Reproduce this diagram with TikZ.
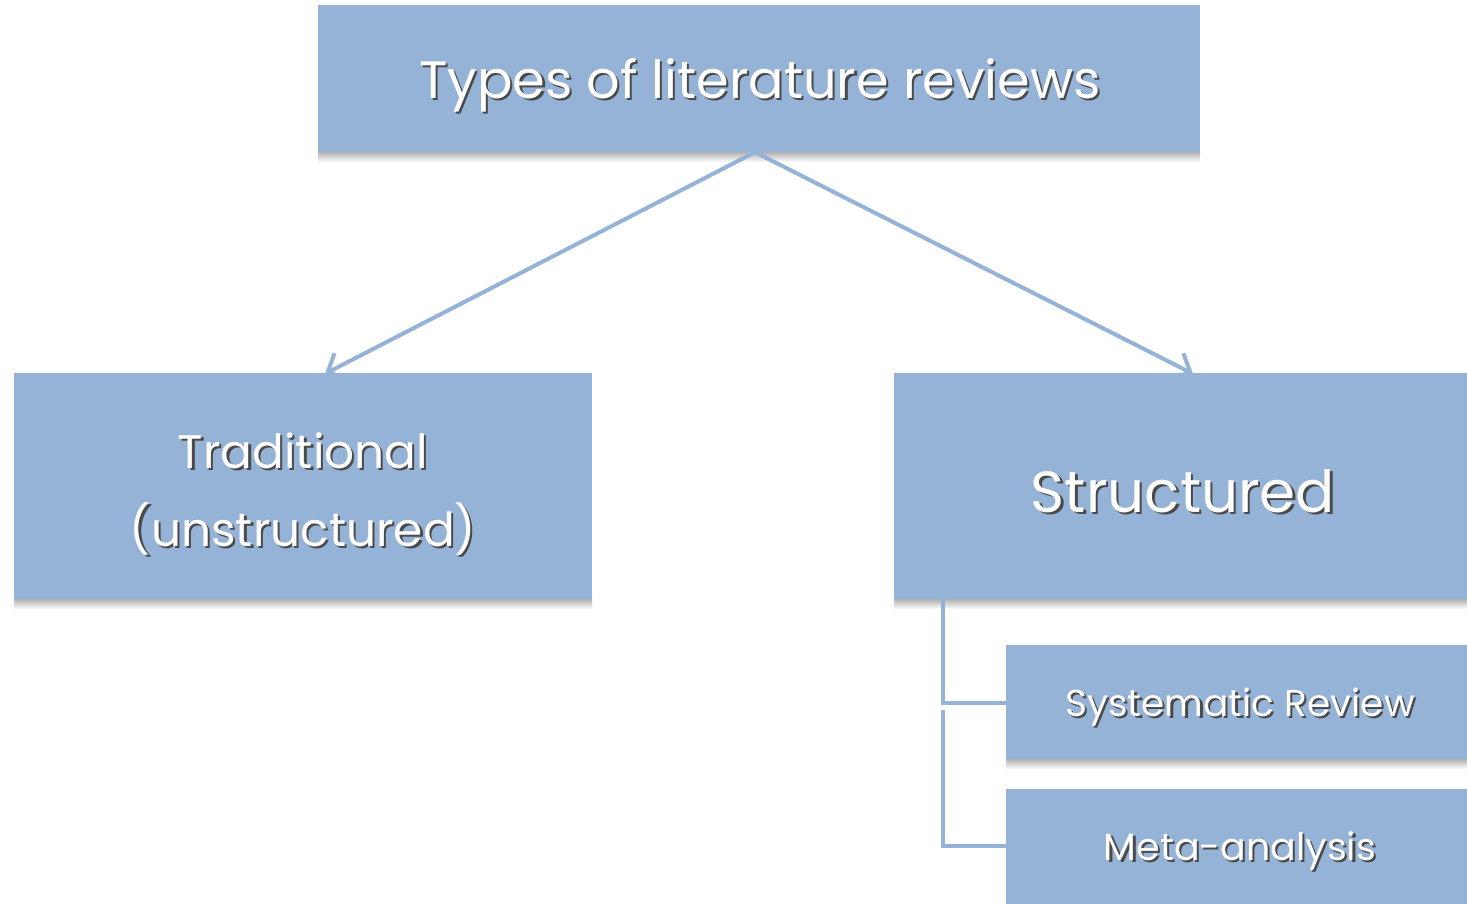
\documentclass[tikz,border=0pt]{standalone}
\usepackage{fontspec}
\setmainfont{Poppins}
\usetikzlibrary{arrows.meta,calc}
\definecolor{boxblue}{HTML}{95B3D7}
\definecolor{txtshade}{HTML}{4A4A4A}
% white text with a small dark drop shadow
\newcommand{\shd}[1]{\rlap{\kern2.2pt\raisebox{-2.2pt}{\color{txtshade}#1}}#1}
\tikzset{
  box/.style={fill=boxblue, draw=none, inner sep=0pt},
  lbl/.style={text=white, align=center, inner sep=0pt},
  link/.style={draw=boxblue, line width=4pt},
  tip/.style={-{Straight Barb[length=15pt,width=28pt]}},
  fadeshadow/.style={top color=black!30, bottom color=white, draw=none},
}
% soft shadow strip just below a box
\newcommand{\boxshadow}[1]{\shade[fadeshadow] (#1.south west) rectangle ([yshift=-10pt]#1.south east);}
\begin{document}
\begin{tikzpicture}[x=1pt,y=-1pt]
\useasboundingbox (0,0) rectangle (1467,903);
\fill[white] (0,0) rectangle (1467,903);

% boxes
\node[box, minimum width=882pt, minimum height=147pt] (top) at (759,78.5) {};
\node[box, minimum width=578pt, minimum height=226pt] (left) at (303,486) {};
\node[box, minimum width=580pt, minimum height=226pt] (right) at (1184,486) {};
\node[box, minimum width=470pt, minimum height=114pt] (sys) at (1241,702) {};
\node[box, minimum width=470pt, minimum height=124pt] (meta) at (1241,851) {};
\boxshadow{top}
\boxshadow{left}
\boxshadow{right}
\boxshadow{sys}

% connectors
\coordinate (hub) at ([xshift=-4pt]top.south);
\draw[link, tip] (hub) -- ([xshift=22pt,yshift=-1pt]left.north);
\draw[link, tip] (hub) -- ([xshift=9pt,yshift=-1pt]right.north);

\coordinate (bend1) at (943,703);
\coordinate (bend2) at (943,846);
\coordinate (split) at (943,710);
\draw[link] (bend1 |- right.south) -- (bend1) -- (bend1 -| sys.west);
\draw[link] (split) -- (bend2) -- (bend2 -| meta.west);

% labels
\node[lbl, font=\fontsize{52.5}{60}\selectfont] (ttop) at (760,86) {\shd{Types of literature reviews}};
\node[lbl, font=\fontsize{47}{78}\selectfont] (tleft) at (303,495) {\shd{Traditional}\\\shd{(unstructured)}};
\node[lbl, font=\fontsize{58}{70}\selectfont] (tright) at (1183,492) {\shd{Structured}};
\node[lbl, font=\fontsize{37.5}{40}\selectfont] (tsys) at (1240,708) {\shd{Systematic Review}};
\node[lbl, font=\fontsize{38}{40}\selectfont] (tmeta) at (1240,852) {\shd{Meta-analysis}};
\end{tikzpicture}
\end{document}
